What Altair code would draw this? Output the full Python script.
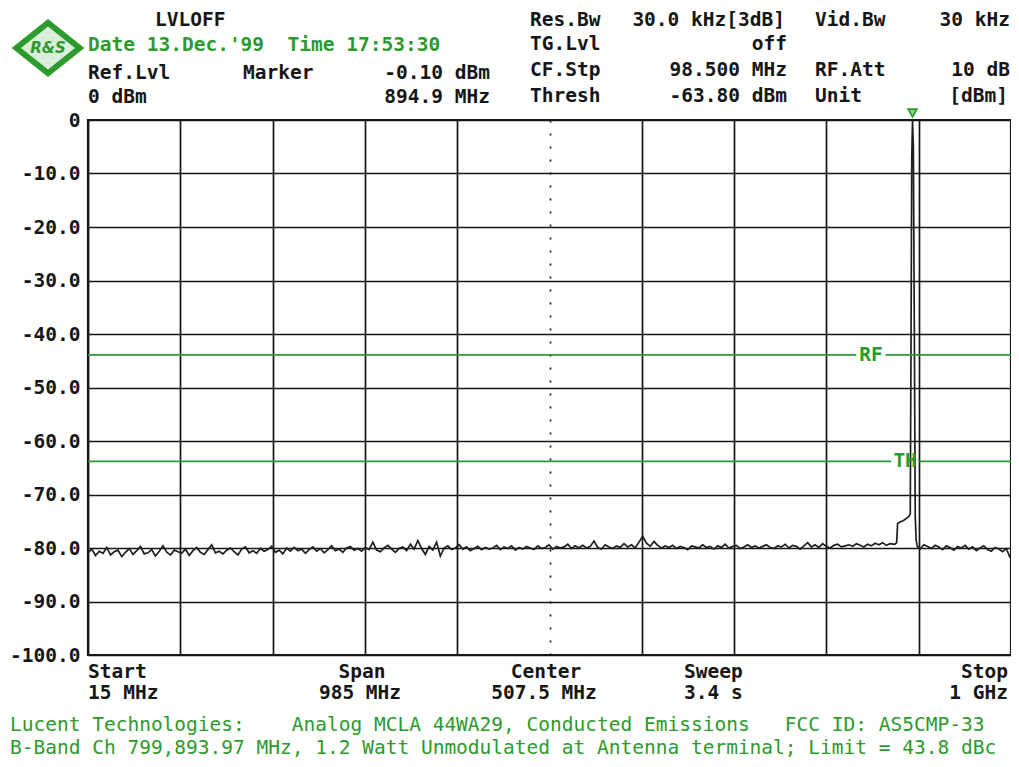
import altair as alt
import pandas as pd

# ---------------- data ----------------
FREQ_START = 15.0      # MHz
FREQ_STOP = 1000.0     # MHz
SPAN = 985.0           # MHz
SWEEP_STEP = 4.0       # MHz between trace bins

# noise floor, 15 MHz .. 871 MHz (4 MHz bins), dBm
noise_lo = [
    -80.9, -80.2, -81.4, -80.6, -81.0, -79.9, -81.3, -80.7, -80.4, -81.6, -80.8, -80.1,
    -81.2, -80.5, -79.7, -81.1, -80.9, -80.3, -81.5, -80.6, -79.6, -80.8, -81.3, -80.4,
    -80.7, -81.0, -80.2, -81.4, -80.5, -79.9, -80.8, -81.2, -80.3, -79.4, -80.9, -80.6,
    -81.1, -80.4, -80.0, -80.7, -81.3, -80.2, -79.8, -80.9, -80.5, -81.0, -80.1, -80.6,
    -80.3, -79.7, -80.8, -80.4, -81.1, -80.0, -80.6, -79.9, -80.5, -80.2, -81.0, -80.3,
    -79.8, -80.6, -80.1, -80.9, -80.3, -79.6, -80.5, -80.2, -80.8, -80.0, -79.7, -80.4,
    -80.1, -80.6, -79.9, -80.3, -78.9, -80.4, -80.7, -80.0, -79.5, -80.2, -80.8, -80.1,
    -79.8, -80.5, -79.3, -80.2, -78.6, -80.1, -81.2, -79.7, -80.4, -78.9, -81.5, -80.0,
    -79.6, -80.3, -80.0, -79.4, -80.2, -79.8, -80.5, -80.1, -79.7, -80.3, -79.9, -80.2,
    -80.0, -79.5, -80.3, -79.8, -80.1, -79.6, -80.4, -79.9, -80.2, -79.7, -80.0, -80.3,
    -79.6, -80.1, -79.9, -79.4, -80.2, -79.7, -80.0, -79.8, -79.3, -80.1, -79.6, -80.0,
    -79.5, -80.0, -79.7, -78.7, -79.9, -80.2, -79.4, -79.8, -80.1, -79.6, -79.9, -79.2,
    -79.8, -79.4, -80.0, -78.9, -77.8, -79.1, -79.7, -78.8, -79.5, -80.0, -79.6, -79.9,
    -79.5, -80.1, -79.7, -79.9, -80.3, -79.6, -79.8, -80.0, -79.4, -79.9, -79.7, -80.2,
    -79.6, -79.9, -79.3, -80.0, -79.7, -79.5, -80.1, -79.8, -79.4, -79.9, -79.6, -80.0,
    -79.7, -79.4, -79.9, -80.1, -79.6, -79.8, -79.3, -80.0, -79.5, -79.7, -80.2, -79.6,
    -79.0, -79.8, -79.4, -79.9, -79.2, -79.7, -80.0, -79.5, -79.3, -79.8, -79.6, -79.4,
    -79.7, -79.2, -79.5, -79.8, -79.3, -79.6, -79.1, -79.4, -79.0, -79.5, -79.2,
]

# carrier region (shoulder + carrier peak)
carrier_freq = [876.0, 878.0, 879.0, 882.0, 885.0, 888.0, 891.0, 892.5, 893.3,
                894.1, 894.9, 895.8, 896.8, 897.8, 898.8, 900.0]
carrier_level = [-79.3, -79.0, -75.4, -75.1, -74.9, -74.5, -74.1, -73.6, -42.0,
                 -7.0, -0.1, -5.0, -38.0, -74.0, -78.6, -79.7]

# noise floor above the carrier, 903 MHz .. 999 MHz
NOISE_HI_START = 903.0
noise_hi = [
    -80.2, -79.4, -79.7, -80.1, -79.5, -79.8, -80.3, -79.6, -79.9, -80.4, -79.7, -80.0,
    -79.5, -80.2, -79.8, -80.5, -80.0, -79.6, -80.3, -80.6, -79.9, -80.2, -80.7, -80.1,
    -81.8,
]

y_ticks = [0, -10, -20, -30, -40, -50, -60, -70, -80, -90, -100]
rf_limit = -43.9        # dBm  (limit 43.8 dBc below carrier)
threshold = -63.8       # dBm
marker_freq = 894.9     # MHz

NB = "\u00a0"  # non-breaking space keeps runs of spaces in SVG text

# texts
hdr_mode = "LVLOFF"
hdr_date = "Date 13.Dec.'99" + NB * 2 + "Time 17:53:30"
hdr_reflvl = ["Ref.Lvl", "0 dBm"]
hdr_marker = ["Marker", "-0.10 dBm", "894.9 MHz"]
hdr_col1 = ["Res.Bw", "TG.Lvl", "CF.Stp", "Thresh"]
hdr_col2 = ["30.0 kHz[3dB]", "off", "98.500 MHz", "-63.80 dBm"]
hdr_col3 = ["Vid.Bw", "RF.Att", "Unit"]
hdr_col4 = ["30 kHz", "10 dB", "[dBm]"]
ftr_start = ["Start", "15 MHz"]
ftr_span = ["Span", "985 MHz"]
ftr_center = ["Center", "507.5 MHz"]
ftr_sweep = ["Sweep", "3.4 s"]
ftr_stop = ["Stop", "1 GHz"]
ftr_line1 = ("Lucent Technologies:" + NB * 4 + "Analog MCLA 44WA29, Conducted Emissions"
             + NB * 3 + "FCC ID: AS5CMP-33")
ftr_line2 = "B-Band Ch 799,893.97 MHz, 1.2 Watt Unmodulated at Antenna terminal; Limit = 43.8 dBc"

# ---------------- build ----------------
freqs = ([FREQ_START + SWEEP_STEP * i for i in range(len(noise_lo))]
         + carrier_freq
         + [NOISE_HI_START + SWEEP_STEP * i for i in range(len(noise_hi))])
levels = noise_lo + carrier_level + noise_hi
trace_df = pd.DataFrame({"freq": freqs, "level": levels})

div_freqs = [FREQ_START + SPAN / 10 * k for k in range(11)]
CENTER = FREQ_START + SPAN / 2

FONT = "DejaVu Sans Mono"
FS = 19.5
GREEN = "#2c9a2c"
BLACK = "#161616"

xscale = alt.Scale(domain=[FREQ_START, FREQ_STOP], nice=False, zero=False)
yscale = alt.Scale(domain=[-100, 0], nice=False, zero=False)

xaxis = alt.Axis(values=div_freqs, labels=False, ticks=False, domain=False,
                 grid=True, gridColor=BLACK, gridWidth=1.7, title=None,
                 gridDash=alt.condition(f"abs(datum.value - {CENTER}) < 0.01",
                                        alt.value([2, 11]), alt.value([])))
yaxis = alt.Axis(values=y_ticks, ticks=False, domain=False, grid=True,
                 gridColor=BLACK, gridWidth=1.7, title=None,
                 labelExpr="datum.value == 0 ? '0' : toString(datum.value) + '.0'",
                 labelFont=FONT, labelFontSize=FS, labelFontWeight="bold",
                 labelColor=BLACK, labelPadding=8)

trace = alt.Chart(trace_df).mark_line(color="#1e1e1e", strokeWidth=1.7).encode(
    x=alt.X("freq:Q", scale=xscale, axis=xaxis),
    y=alt.Y("level:Q", scale=yscale, axis=yaxis),
)

rf_df = pd.DataFrame({"x": [FREQ_START, 866.0], "x2": [835.0, FREQ_STOP],
                      "y": [rf_limit, rf_limit]})
th_df = pd.DataFrame({"x": [FREQ_START, 901.0], "x2": [872.0, FREQ_STOP],
                      "y": [threshold, threshold]})
rf_rule = alt.Chart(rf_df).mark_rule(color=GREEN, strokeWidth=1.6).encode(
    x="x:Q", x2="x2:Q", y="y:Q")
th_rule = alt.Chart(th_df).mark_rule(color=GREEN, strokeWidth=1.6).encode(
    x="x:Q", x2="x2:Q", y="y:Q")

lbl_df = pd.DataFrame({"x": [850.5, 887.0], "y": [rf_limit, threshold],
                       "t": ["RF", "TH"]})
lim_lbl = alt.Chart(lbl_df).mark_text(font=FONT, fontSize=FS, fontWeight="bold",
                                      color=GREEN, baseline="middle").encode(
    x="x:Q", y="y:Q", text="t:N")

marker = alt.Chart(pd.DataFrame({"freq": [marker_freq]})).mark_point(
    shape="triangle-down", size=80, filled=True, fill="#86d286",
    stroke=GREEN, strokeWidth=1.6, opacity=1).encode(
    x="freq:Q", y=alt.value(-7))


def one():
    return alt.Data(values=[{}])


def label(text, px, py, align="left", color=BLACK, size=FS, weight="bold"):
    return alt.Chart(one()).mark_text(
        text=text, align=align, baseline="middle", font=FONT, fontSize=size,
        fontWeight=weight, color=color).encode(x=alt.value(px), y=alt.value(py))


texts = [
    label(hdr_mode, 67, -100),
    label(hdr_date, 0, -75, color=GREEN),
    label(hdr_reflvl[0], 0, -47),
    label(hdr_reflvl[1], 0, -23),
    label(hdr_marker[0], 155, -47),
    label(hdr_marker[1], 402, -47, align="right"),
    label(hdr_marker[2], 402, -23, align="right"),
    label(hdr_col1[0], 442, -100),
    label(hdr_col1[1], 442, -76),
    label(hdr_col1[2], 442, -50),
    label(hdr_col1[3], 442, -24),
    label(hdr_col2[0], 697, -100, align="right"),
    label(hdr_col2[1], 699, -76, align="right"),
    label(hdr_col2[2], 699, -50, align="right"),
    label(hdr_col2[3], 699, -24, align="right"),
    label(hdr_col3[0], 727, -100),
    label(hdr_col3[1], 727, -50),
    label(hdr_col3[2], 727, -24),
    label(hdr_col4[0], 922, -100, align="right"),
    label(hdr_col4[1], 922, -50, align="right"),
    label(hdr_col4[2], 920, -24, align="right"),
    label(ftr_start[0], 0, 552),
    label(ftr_start[1], 0, 573),
    label(ftr_span[0], 274, 552, align="center"),
    label(ftr_span[1], 272, 573, align="center"),
    label(ftr_center[0], 458, 552, align="center"),
    label(ftr_center[1], 456, 573, align="center"),
    label(ftr_sweep[0], 596, 552),
    label(ftr_sweep[1], 596, 573),
    label(ftr_stop[0], 920, 552, align="right"),
    label(ftr_stop[1], 920, 573, align="right"),
    label(ftr_line1, -78, 605, color=GREEN, weight="normal"),
    label(ftr_line2, -78, 628, color=GREEN, weight="normal"),
]

# R&S logo
logo_outer = alt.Chart(one()).mark_point(
    shape="M0,-0.8L1,0L0,0.8L-1,0Z", size=5300, filled=True, fill=GREEN,
    opacity=1, strokeWidth=0).encode(x=alt.value(-40), y=alt.value(-72))
logo_inner = alt.Chart(one()).mark_point(
    shape="M0,-0.8L1,0L0,0.8L-1,0Z", size=2900, filled=True, fill="#d9efd9",
    opacity=1, strokeWidth=0).encode(x=alt.value(-40), y=alt.value(-72))
logo_text = alt.Chart(one()).mark_text(
    text="R&S", font="DejaVu Sans", fontSize=15, fontWeight="bold",
    fontStyle="italic", color=GREEN, align="center", baseline="middle").encode(
    x=alt.value(-40), y=alt.value(-72))

chart = alt.layer(
    trace, rf_rule, th_rule, lim_lbl, marker,
    logo_outer, logo_inner, logo_text, *texts
).properties(
    width=923, height=535,
    padding={"left": 80, "top": 112, "right": 0, "bottom": 104},
    autosize=alt.AutoSizeParams(type="none"),
    background="white",
).configure_view(stroke=BLACK, strokeWidth=2.2)

chart.save("out.html", embed_options={"renderer": "svg", "actions": False})
